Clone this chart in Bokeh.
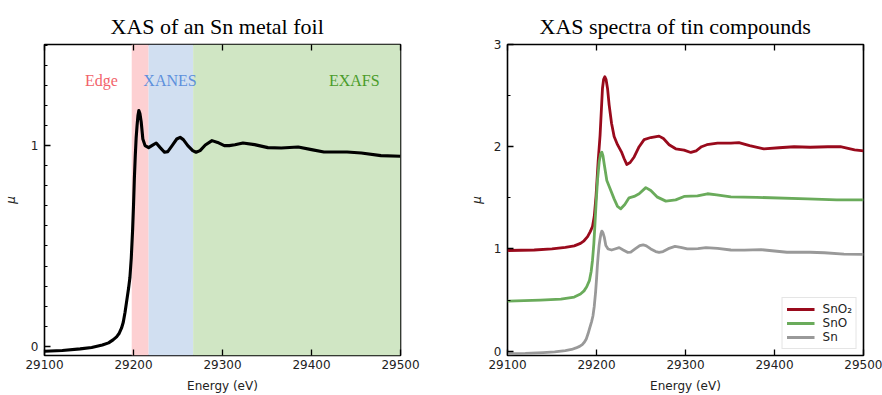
from bokeh.plotting import figure
from bokeh.models import (Range1d, LinearAxis, SingleIntervalTicker, FixedTicker,
                          BoxAnnotation, Label, Legend, LegendItem)
from bokeh.layouts import row
from bokeh.embed import file_html
from bokeh.resources import INLINE

# ---------------- data ----------------
x_ticks = [29100, 29200, 29300, 29400, 29500]

region_names = ["Edge", "XANES", "EXAFS"]
region_start = [29198, 29217, 29267]
region_end = [29217, 29267, 29500]

sn_energy = [29100, 29120, 29140, 29153, 29165, 29172, 29177, 29181, 29184, 29186.5,
             29188.5, 29190.5, 29192.5, 29194.5, 29196, 29197.5, 29199, 29200,
             29201, 29202, 29203, 29204, 29205, 29206, 29207.2, 29208.7, 29210.5,
             29213, 29217, 29220.6, 29225.5, 29230, 29234.8, 29238.5, 29243.4,
             29248.6, 29252.4, 29256, 29261, 29266.5, 29270.3, 29274.8, 29280.7,
             29288.2, 29294.5, 29302, 29307.6, 29314, 29323, 29336, 29351, 29366,
             29385, 29400, 29414, 29440, 29456, 29478, 29500]
sn_mu = [-0.025, -0.021, -0.013, -0.006, 0.006, 0.017, 0.032, 0.047, 0.065, 0.09,
         0.12, 0.17, 0.23, 0.29, 0.344, 0.44, 0.58, 0.70,
         0.84, 0.95, 1.04, 1.10, 1.15, 1.175, 1.16, 1.116, 1.033,
         1.0, 0.99, 1.0, 1.013, 0.99, 0.967, 0.97, 1.0,
         1.033, 1.041, 1.03, 1.0, 0.975, 0.967, 0.975, 1.003,
         1.025, 1.016, 1.0, 1.0, 1.004, 1.013, 1.005, 0.99, 0.988,
         0.993, 0.98, 0.968, 0.968, 0.963, 0.95, 0.947]

sno2_energy = [29100, 29130, 29150, 29165, 29175, 29182, 29186, 29190, 29193, 29195.5,
               29197.5, 29199.5, 29201.8, 29204, 29206.7, 29208, 29209.3, 29210.7,
               29212.4, 29214.2, 29216.9, 29219.8, 29223.6, 29228, 29231, 29234,
               29237.8, 29242.3, 29247.9, 29253.5, 29261, 29270.3, 29275.2, 29281.6,
               29289, 29298.4, 29306, 29312, 29318, 29324, 29336, 29351, 29360,
               29372, 29388, 29405, 29422, 29440, 29460, 29474, 29490, 29500]
sno2_mu = [0.985, 0.99, 1.0, 1.015, 1.03, 1.055, 1.08, 1.12, 1.17, 1.22,
           1.32, 1.52, 1.85, 2.11, 2.57, 2.66, 2.685, 2.66,
           2.57, 2.41, 2.23, 2.10, 2.02, 1.95, 1.885, 1.827,
           1.846, 1.90, 2.0, 2.07, 2.09, 2.104, 2.08, 2.02,
           1.98, 1.967, 1.944, 1.96, 2.0, 2.02, 2.035, 2.035, 2.04,
           2.01, 1.98, 1.99, 2.0, 1.995, 2.0, 2.0, 1.97, 1.96]

sno_energy = [29100, 29137, 29160, 29175, 29182, 29186, 29189, 29192, 29194, 29195.5,
              29197, 29198, 29199.5, 29201.1, 29203, 29204.6, 29206, 29207.3,
              29208.6, 29211.6, 29215.3, 29219.8, 29223.6, 29227.3, 29231.8,
              29236.6, 29242.3, 29247.9, 29255.4, 29261, 29268.5, 29277.9, 29289,
              29298.4, 29306, 29313.5, 29324.7, 29335, 29351, 29380, 29437, 29470,
              29500]
sno_mu = [0.49, 0.50, 0.51, 0.53, 0.56, 0.59, 0.63, 0.69, 0.78, 0.89,
          1.05, 1.20, 1.44, 1.67, 1.85, 1.93, 1.947, 1.91,
          1.834, 1.67, 1.589, 1.49, 1.416, 1.393, 1.435,
          1.50, 1.514, 1.54, 1.60, 1.572, 1.507, 1.468, 1.48,
          1.514, 1.517, 1.52, 1.54, 1.53, 1.51, 1.505, 1.49, 1.48,
          1.48]

series_labels = ["SnO\u2082", "SnO", "Sn"]

# ---------------- styling helpers ----------------
TICK_FONT = "DejaVu Sans"
SERIF = "Liberation Serif"


def style_axis(ax, show_labels=True):
    ax.axis_line_color = None
    ax.major_tick_in = 6
    ax.major_tick_out = 0
    ax.minor_tick_in = 3
    ax.minor_tick_out = 0
    ax.major_tick_line_color = "black"
    ax.major_tick_line_width = 1.3
    ax.minor_tick_line_color = "black"
    ax.minor_tick_line_width = 1.1
    ax.major_label_text_font = TICK_FONT
    ax.major_label_text_font_size = "12px"
    ax.major_label_text_color = "#222222"
    ax.major_label_standoff = 6
    ax.axis_label_text_font = TICK_FONT
    ax.axis_label_text_font_size = "12px"
    ax.axis_label_text_font_style = "normal"
    ax.axis_label_text_color = "#222222"
    if not show_labels:
        ax.major_label_text_font_size = "0px"
        ax.major_label_text_alpha = 0
        ax.major_label_standoff = 0


def make_fig(title, y_start, y_end, left, right, y_interval, n_minor, title_offset):
    p = figure(width=441, height=395, output_backend="svg", toolbar_location=None,
               x_range=Range1d(29100, 29500), y_range=Range1d(y_start, y_end),
               min_border_left=left, min_border_right=right,
               min_border_top=44, min_border_bottom=40,
               x_axis_label="Energy (eV)", y_axis_label="\u03bc")
    p.grid.visible = False
    p.outline_line_color = "black"
    p.outline_line_width = 1.6
    p.background_fill_color = "white"
    p.border_fill_color = "white"
    p.title.text = title
    p.title.text_font = SERIF
    p.title.text_font_size = "22px"
    p.title.text_font_style = "normal"
    p.title.text_color = "black"
    p.title.align = "left"
    p.title.offset = title_offset
    p.title.standoff = 12

    xa = p.xaxis[0]
    xa.ticker = FixedTicker(ticks=x_ticks)
    style_axis(xa)
    xa.major_label_standoff = 4
    xa.axis_label_standoff = 7
    ya = p.yaxis[0]
    ya.ticker = SingleIntervalTicker(interval=y_interval, num_minor_ticks=n_minor)
    style_axis(ya)
    ya.axis_label_text_font_style = "italic"
    ya.axis_label_text_font_size = "12px"

    top = LinearAxis(ticker=FixedTicker(ticks=x_ticks))
    style_axis(top, show_labels=False)
    p.add_layout(top, "above")
    return p


# ---------------- left panel ----------------
p1 = make_fig("XAS of an Sn metal foil", -0.046, 1.504, 43, 41, 1, 10, 66)
p1.yaxis[0].axis_label_standoff = 10

shade_colors = ["#fdd0d2", "#d1dff1", "#d0e6c4"]
text_colors = ["#f2636b", "#5d90dc", "#4a9c2a"]
label_x = [29164, 29241, 29448]
for name, s, e, fc, tc, lx in zip(region_names, region_start, region_end,
                                   shade_colors, text_colors, label_x):
    p1.add_layout(BoxAnnotation(left=s, right=e, fill_color=fc, fill_alpha=1.0,
                                line_color=None, level="underlay"))
    p1.add_layout(Label(x=lx, y=1.326, text=name, text_align="center",
                        text_baseline="alphabetic", text_font=SERIF,
                        text_font_size="16px", text_color=tc))

p1.line(sn_energy, sn_mu, line_color="black", line_width=3.1, line_join="round")

# ---------------- right panel ----------------
p2 = make_fig("XAS spectra of tin compounds", -0.042, 3.0, 66, 19, 1, 2, 32)
p2.yaxis[0].axis_label_standoff = 7

colors = ["#990a1c", "#6aab5b", "#999999"]
r_sno2 = p2.line(sno2_energy, sno2_mu, line_color=colors[0], line_width=2.8, line_join="round")
r_sno = p2.line(sno_energy, sno_mu, line_color=colors[1], line_width=2.8, line_join="round")
r_sn = p2.line(sn_energy, sn_mu, line_color=colors[2], line_width=2.8, line_join="round")

legend = Legend(items=[LegendItem(label=series_labels[0], renderers=[r_sno2]),
                       LegendItem(label=series_labels[1], renderers=[r_sno]),
                       LegendItem(label=series_labels[2], renderers=[r_sn])],
                location="bottom_right")
legend.label_text_font = TICK_FONT
legend.label_text_font_size = "12px"
legend.label_text_color = "#222222"
legend.glyph_width = 28
legend.glyph_height = 14
legend.label_height = 14
legend.label_standoff = 8
legend.spacing = 0
legend.padding = 4
legend.margin = 6
legend.border_line_color = "#cccccc"
legend.border_line_width = 1
legend.background_fill_alpha = 0.9
p2.add_layout(legend)

layout = row(p1, p2)
open("out.html", "w").write(file_html(layout, INLINE))
